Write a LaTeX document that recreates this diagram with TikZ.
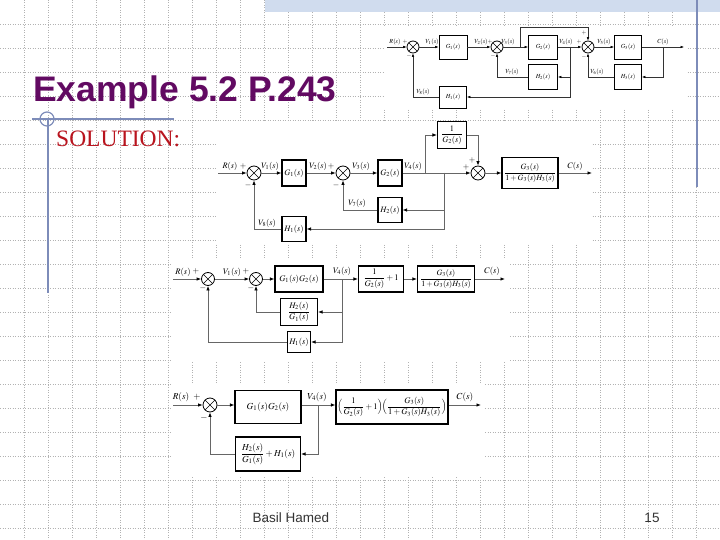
\documentclass[tikz,border=0pt]{standalone}
\usepackage{amsmath}
\usepackage{mathptmx}
\usepackage{fontspec}
\setmainfont{Liberation Serif}
\newfontfamily\headfont{Liberation Sans}
\usetikzlibrary{arrows.meta}
\definecolor{titlepurple}{RGB}{98,10,98}
\definecolor{solred}{RGB}{185,20,30}
\definecolor{slate}{RGB}{125,140,185}
\definecolor{bandblue}{RGB}{208,220,238}

\begin{document}
\begin{tikzpicture}
	[x=1pt, y=-1pt,
	gridln/.style={draw=black!30, line width=0.6, dash pattern=on 0.8pt off 1.7pt},
	deco/.style={draw=slate, line width=1.2},
	blk/.style={draw, line width=1.1, inner sep=1pt, fill=white},
	sumj/.style={circle, draw, line width=0.8, inner sep=0pt, minimum size=#1,
		path picture={\draw[line width=0.6] (path picture bounding box.north west) -- (path picture bounding box.south east)
			(path picture bounding box.south west) -- (path picture bounding box.north east);}},
	conn/.style={draw=black!60, line width=0.8, -{Latex[black, length=4.5pt, width=3.5pt]}},
	connA/.style={draw=black!80, line width=0.5, -{Latex[black, length=3.5pt, width=2.6pt]}},
	lbl/.style={inner sep=0pt}]
	\useasboundingbox (0,0) rectangle (720,540);
	\fill[white] (0,0) rectangle (720,540);
	\foreach \g in {24,48,...,696} \draw[gridln] (\g,0) -- (\g,540);
	\foreach \g in {24,48,...,528} \draw[gridln] (0,\g) -- (720,\g);
	\fill[bandblue] (265,0) rectangle (720,12);
	\draw[deco] (697,0) -- (697,187);
	\draw[deco] (32,119) -- (174,119);
	\draw[deco] (48,119) -- (48,293);
	\draw[deco] (47,119) circle (7);
	\node[lbl, anchor=base west, font=\headfont\bfseries\fontsize{35.5}{40}\selectfont, text=titlepurple] (title) at (33,102) {Example 5.2 P.243};
	\node[lbl, anchor=base west, font=\fontsize{23.5}{26}\selectfont, text=solred] (solution) at (56,147) {SOLUTION:};
	\node[lbl, anchor=base, font=\headfont\fontsize{13.5}{15}\selectfont, text=black!80] (author) at (291,522) {Basil Hamed};
	\node[lbl, anchor=base, font=\headfont\fontsize{13.5}{15}\selectfont, text=black!80] (page) at (652,522) {15};
	\fill[white] (384,26) rectangle (686,108);
	\fill[white] (216,122) rectangle (592,244);
	\fill[white] (171,258) rectangle (510,362);
	\fill[white] (172,383) rectangle (485,477);

	\begin{scope}[font=\fontsize{6.2}{7}\selectfont]
		\coordinate (aR) at (387,47);
		\node[sumj=12] (aS1) at (413,47) {};
		\node[blk, line width=0.9, minimum width=28, minimum height=24] (aG1) at (453,47) {$G_1(s)$};
		\node[sumj=12] (aS2) at (497,47) {};
		\node[blk, line width=0.9, minimum width=29, minimum height=24] (aG2) at (543,47) {$G_2(s)$};
		\node[sumj=12] (aS3) at (588,47) {};
		\node[blk, line width=0.9, minimum width=27, minimum height=24] (aG3) at (628,47) {$G_3(s)$};
		\coordinate (aC) at (684,47);
		\coordinate (ap3) at (520,47);
		\coordinate (aTop) at (588,27);
		\coordinate (ap4) at (570,47);
		\coordinate (apC) at (663,47);
		\node[blk, line width=0.9, minimum width=29, minimum height=25] (aH2) at (543,77) {$H_2(s)$};
		\node[blk, line width=0.9, minimum width=27, minimum height=25] (aH3) at (628,77) {$H_3(s)$};
		\node[blk, line width=0.9, minimum width=27, minimum height=22] (aH1) at (453,97) {$H_1(s)$};
		\draw[connA] (aR) -- (aS1);
		\draw[connA] (aS1) -- (aG1);
		\draw[connA] (aG1) -- (aS2);
		\draw[connA] (aS2) -- (aG2);
		\draw[connA] (aG2) -- (aS3);
		\draw[connA] (aS3) -- (aG3);
		\draw[connA] (aG3) -- (aC);
		\draw[connA] (ap3) |- (aTop) -- (aS3);
		\draw[connA] (ap4) |- (aH2);
		\draw[connA] (ap4) |- (aH1);
		\draw[connA] (apC) |- (aH3);
		\draw[connA] (aH2) -| (aS2);
		\draw[connA] (aH3) -| (aS3);
		\draw[connA] (aH1) -| (aS1);
		\node[lbl] (laR) at (395,42) {$R(s)$};
		\node[lbl] (laP1) at (405,42) {$+$};
		\node[lbl] (laM1) at (409,56) {$-$};
		\node[lbl] (laV1) at (432,42) {$V_1(s)$};
		\node[lbl] (laV2) at (481,42) {$V_2(s)$};
		\node[lbl] (laP2) at (490,42) {$+$};
		\node[lbl] (laM2) at (493,56) {$-$};
		\node[lbl] (laV3) at (508,42) {$V_3(s)$};
		\node[lbl] (laV4) at (566,42) {$V_4(s)$};
		\node[lbl] (laP3) at (579,42) {$+$};
		\node[lbl] (laP4) at (584,33) {$+$};
		\node[lbl] (laM3) at (584,57) {$-$};
		\node[lbl] (laV5) at (604,42) {$V_5(s)$};
		\node[lbl] (laC) at (663,42) {$C(s)$};
		\node[lbl] (laV7) at (512,72) {$V_7(s)$};
		\node[lbl] (laV6) at (597,72) {$V_6(s)$};
		\node[lbl] (laV8) at (423,92) {$V_8(s)$};
	\end{scope}

	\begin{scope}[font=\fontsize{8.3}{9}\selectfont]
		\coordinate (bR) at (218,173);
		\node[sumj=14] (bS1) at (254,173) {};
		\node[blk, minimum width=24, minimum height=26] (bG1) at (294,173) {$G_1(s)$};
		\node[sumj=14] (bS2) at (343,173) {};
		\node[blk, minimum width=24, minimum height=26] (bG2) at (390,173) {$G_2(s)$};
		\node[sumj=14] (bS3) at (478,173) {};
		\node[blk, minimum width=56, minimum height=31, font=\fontsize{8}{9}\selectfont] (bG3) at (530,173) {$\dfrac{G_3(s)}{1+G_3(s)H_3(s)}$};
		\coordinate (bC) at (592,173);
		\coordinate (bp1) at (425,173);
		\coordinate (bp2) at (444,173);
		\node[blk, minimum width=29, minimum height=27] (bK) at (452,135) {$\dfrac{1}{G_2(s)}$};
		\node[blk, minimum width=24, minimum height=25] (bH2) at (390,210) {$H_2(s)$};
		\node[blk, minimum width=24, minimum height=25] (bH1) at (294,229) {$H_1(s)$};
		\draw[conn] (bR) -- (bS1);
		\draw[conn] (bS1) -- (bG1);
		\draw[conn] (bG1) -- (bS2);
		\draw[conn] (bS2) -- (bG2);
		\draw[conn] (bG2) -- (bS3);
		\draw[conn] (bS3) -- (bG3);
		\draw[conn] (bG3) -- (bC);
		\draw[conn] (bp1) |- (bK);
		\draw[conn] (bK) -| (bS3);
		\draw[conn] (bp2) |- (bH2);
		\draw[conn] (bp2) |- (bH1);
		\draw[conn] (bH2) -| (bS2);
		\draw[conn] (bH1) -| (bS1);
		\node[lbl] (lbR) at (230,166) {$R(s)$};
		\node[lbl] (lbP1) at (243,166) {$+$};
		\node[lbl] (lbM1) at (248,185) {$-$};
		\node[lbl] (lbV1) at (270,166) {$V_1(s)$};
		\node[lbl] (lbV2) at (318,166) {$V_2(s)$};
		\node[lbl] (lbP2) at (331,166) {$+$};
		\node[lbl] (lbM2) at (336,185) {$-$};
		\node[lbl] (lbV3) at (361,166) {$V_3(s)$};
		\node[lbl] (lbV4) at (413,166) {$V_4(s)$};
		\node[lbl] (lbP3) at (472,160) {$+$};
		\node[lbl] (lbP4) at (466,167) {$+$};
		\node[lbl] (lbV7) at (357,203) {$V_7(s)$};
		\node[lbl] (lbV8) at (267,223) {$V_8(s)$};
		\node[lbl] (lbC) at (575,166) {$C(s)$};
	\end{scope}

	\begin{scope}[font=\fontsize{8.5}{9.5}\selectfont]
		\coordinate (cR) at (173,279);
		\node[sumj=13] (cS1) at (208,279) {};
		\node[sumj=13] (cS2) at (256,279) {};
		\node[blk, minimum width=48, minimum height=26] (cG12) at (299,279) {$G_1(s)G_2(s)$};
		\node[blk, minimum width=45, minimum height=26] (cK) at (381,279) {$\dfrac{1}{G_2(s)}+1$};
		\node[blk, minimum width=57, minimum height=26, font=\fontsize{8}{9}\selectfont] (cG3) at (446,279) {$\dfrac{G_3(s)}{1+G_3(s)H_3(s)}$};
		\coordinate (cC) at (505,279);
		\coordinate (cp) at (342,279);
		\node[blk, minimum width=37, minimum height=27] (cH2) at (299,312) {$\dfrac{H_2(s)}{G_1(s)}$};
		\node[blk, minimum width=23, minimum height=21] (cH1) at (299,342) {$H_1(s)$};
		\draw[conn] (cR) -- (cS1);
		\draw[conn] (cS1) -- (cS2);
		\draw[conn] (cS2) -- (cG12);
		\draw[conn] (cG12) -- (cK);
		\draw[conn] (cK) -- (cG3);
		\draw[conn] (cG3) -- (cC);
		\draw[conn] (cp) |- (cH2);
		\draw[conn] (cp) |- (cH1);
		\draw[conn] (cH2) -| (cS2);
		\draw[conn] (cH1) -| (cS1);
		\node[lbl] (lcR) at (183,272) {$R(s)$};
		\node[lbl] (lcP1) at (196,271) {$+$};
		\node[lbl] (lcM1) at (203,288) {$-$};
		\node[lbl] (lcV1) at (232,272) {$V_1(s)$};
		\node[lbl] (lcP2) at (246,271) {$+$};
		\node[lbl] (lcM2) at (251,288) {$-$};
		\node[lbl] (lcV4) at (342,271) {$V_4(s)$};
		\node[lbl] (lcC) at (492,271) {$C(s)$};
	\end{scope}

	\begin{scope}[font=\fontsize{9.2}{10}\selectfont]
		\coordinate (dR) at (173,405);
		\node[sumj=14] (dS) at (210,405) {};
		\node[blk, minimum width=66, minimum height=33] (dG) at (268,407) {$G_1(s)G_2(s)$};
		\node[blk, minimum width=112, minimum height=34, inner sep=1pt, font=\fontsize{8.5}{9.5}\selectfont] (dT) at (392,407)
			{$\Bigl(\dfrac{1}{G_2(s)}+1\Bigr)\!\Bigl(\dfrac{G_3(s)}{1+G_3(s)H_3(s)}\Bigr)$};
		\coordinate (dC) at (481,405);
		\coordinate (dp) at (318,405);
		\node[blk, minimum width=65, minimum height=34, inner sep=0pt] (dH) at (268,454) {$\dfrac{H_2(s)}{G_1(s)}+H_1(s)$};
		\draw[conn] (dR) -- (dS);
		\draw[conn] (dS) -- (dG.west |- dS);
		\draw[conn] (dG.east |- dS) -- (dT.west |- dS);
		\draw[conn] (dT.east |- dS) -- (dC);
		\draw[conn] (dp) |- (dH);
		\draw[conn] (dH) -| (dS);
		\node[lbl] (ldR) at (181,397) {$R(s)$};
		\node[lbl] (ldP) at (197,397) {$+$};
		\node[lbl] (ldM) at (204,418) {$-$};
		\node[lbl] (ldV4) at (317,397) {$V_4(s)$};
		\node[lbl] (ldC) at (465,397) {$C(s)$};
	\end{scope}
\end{tikzpicture}
\end{document}
